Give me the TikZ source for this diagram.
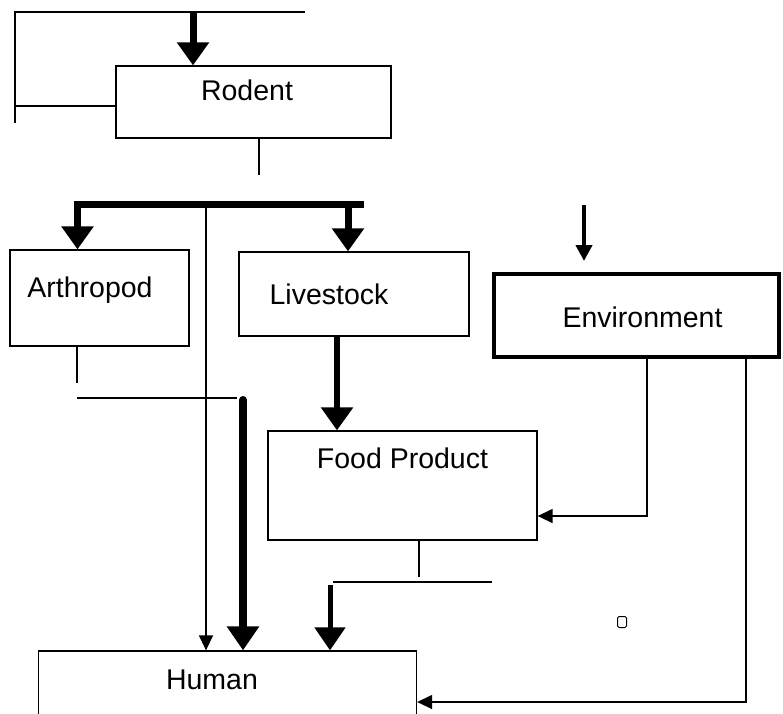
\documentclass[tikz,border=0pt]{standalone}
\usepackage{fontspec}
\setmainfont{Liberation Sans}
\usetikzlibrary{arrows.meta}
\tikzset{
  box/.style={draw, line width=1.3pt, rectangle, inner sep=0pt},
  envbox/.style={draw, line width=4.5pt, rectangle, inner sep=0pt},
  lbl/.style={font=\fontsize{28.5}{32}\selectfont, inner sep=0pt, anchor=base},
  conn/.style={line width=1.4pt},
  bigarrow/.style={line width=7pt, -{Triangle[width=31pt,length=23pt]}},
  smallarrow/.style={line width=1.4pt, -{Triangle[width=14pt,length=15pt]}},
}
\begin{document}
\begin{tikzpicture}[x=1pt,y=-1pt]
\useasboundingbox (0,0) rectangle (783,713);
\clip (0,0) rectangle (783,713);
% boxes
\node[box, minimum width=275pt, minimum height=72pt] (rodent) at (253.5,102) {};
\node[box, minimum width=179pt, minimum height=96pt] (arthropod) at (99.5,298) {};
\node[box, minimum width=230pt, minimum height=84pt] (livestock) at (354,294) {};
\node[envbox, minimum width=285pt, minimum height=83pt] (environment) at (636.5,315.5) {};
\node[box, minimum width=269pt, minimum height=109pt] (food) at (402.5,485.5) {};
\node[box, minimum width=378pt, minimum height=78pt] (human) at (227.5,690) {};
% labels
\node[lbl] (rodentT) at (247,100) {Rodent};
\node[lbl] (arthropodT) at (90,297) {Arthropod};
\node[lbl] (livestockT) at (329,304) {Livestock};
\node[lbl] (environmentT) at (642.5,327) {Environment};
\node[lbl] (foodT) at (402.5,468) {Food Product};
\node[lbl] (humanT) at (212,689) {Human};
% small square
\node[draw, line width=1pt, rounded corners=1.5pt, minimum width=9pt, minimum height=11pt, inner sep=0pt] (sq) at (622,622) {};
% top loop
\coordinate (tl) at (15,12);
\coordinate (tr) at (305,12);
\coordinate (lb) at (15,123);
\coordinate (lm) at (15,106);
\coordinate (ra) at (193,12);
\draw[conn] (lb) -- (tl) -- (tr);
\draw[conn] (lm) -- (lm -| rodent.west);
\draw[bigarrow] (ra) -- (ra |- rodent.north);
% rodent stub
\coordinate (rb) at (259,175);
\draw[conn] (rb |- rodent.south) -- (rb);
% thick bar
\coordinate (barL) at (74,204);
\coordinate (barR) at (364,204);
\draw[line width=7pt] (barL) -- (barR);
\coordinate (a1) at (77.5,201);
\coordinate (a2) at (348,201);
\draw[bigarrow] (a1) -- (a1 |- arthropod.north);
\draw[bigarrow] (a2) -- (a2 |- livestock.north);
% thin line to human
\coordinate (t1) at (206,204);
\draw[smallarrow] (t1) -- (t1 |- human.north);
% arthropod stub and line
\coordinate (ab) at (77,383);
\draw[conn] (ab |- arthropod.south) -- (ab);
\coordinate (h1) at (77,398);
\coordinate (h2) at (237,398);
\draw[conn] (h1) -- (h2);
\coordinate (k1) at (243,400);
\draw[line width=8pt, line cap=round, -{Triangle[width=31pt,length=24pt]}] (k1) -- (k1 |- human.north);
% livestock -> food
\coordinate (l1) at (337,336);
\draw[line width=6pt, -{Triangle[width=31pt,length=23pt]}] (l1 |- livestock.south) -- (l1 |- food.north);
% environment top arrow
\coordinate (e1) at (584,205);
\coordinate (e2) at (584,261);
\draw[line width=4pt, -{Triangle[width=16pt,length=16pt]}] (e1) -- (e2);
% environment -> food
\coordinate (e3) at (647,516);
\draw[smallarrow] (e3 |- environment.south) -- (e3) -- (e3 -| food.east);
% environment -> human
\coordinate (e4) at (746,702);
\draw[smallarrow] (e4 |- environment.south) -- (e4) -- (e4 -| human.east);
% food stub and line
\coordinate (f1) at (419,577);
\draw[conn] (f1 |- food.south) -- (f1);
\coordinate (g1) at (333,582);
\coordinate (g2) at (492,582);
\draw[conn] (g1) -- (g2);
% medium arrow
\coordinate (m1) at (330,585);
\draw[line width=5pt, -{Triangle[width=30pt,length=23pt]}] (m1) -- (m1 |- human.north);
\end{tikzpicture}
\end{document}
